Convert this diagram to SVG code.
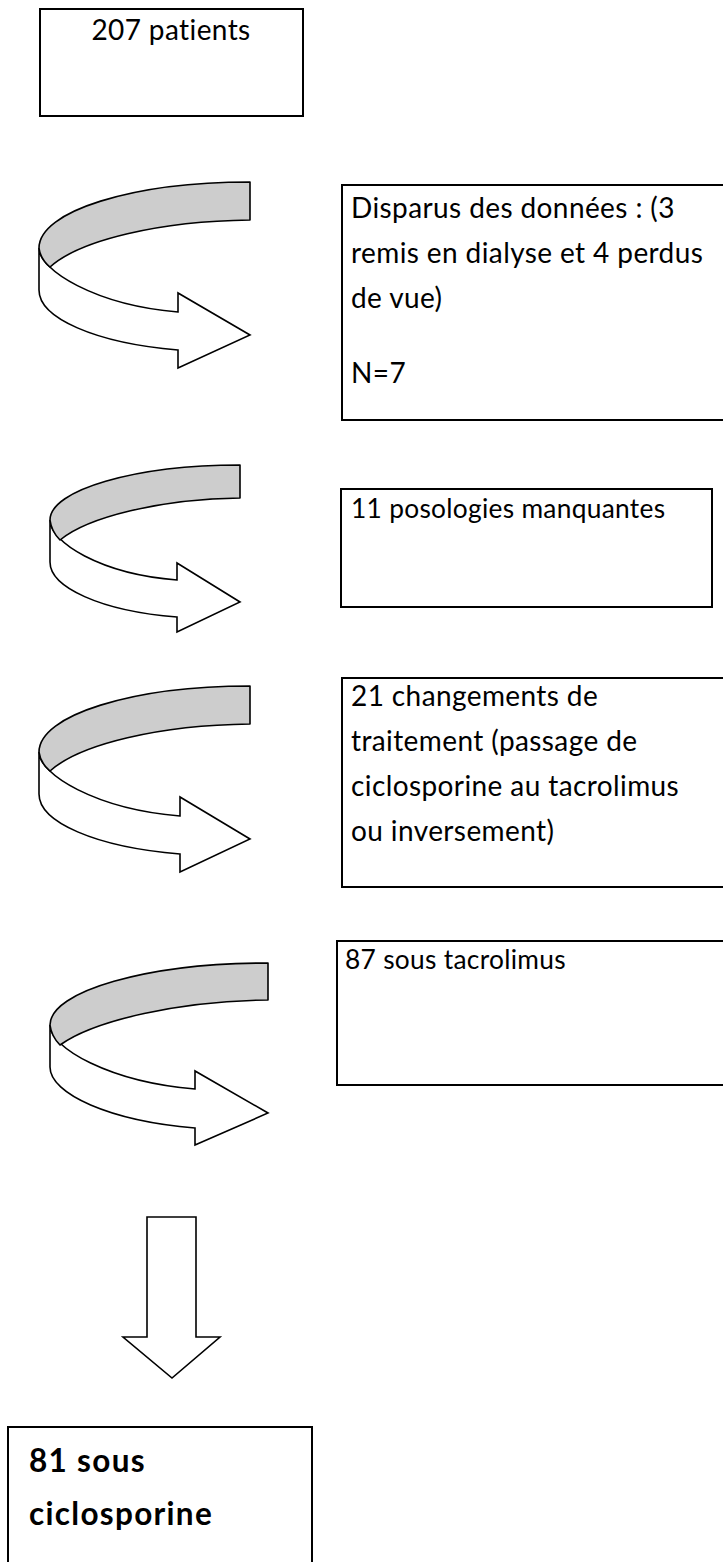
<svg xmlns="http://www.w3.org/2000/svg" width="723" height="1562" viewBox="0 0 723 1562">
<style>
.box{fill:#fff;stroke:#000;stroke-width:2}
.band{fill:#cdcdcd;stroke:#000;stroke-width:1.6;stroke-linejoin:round}
.body{fill:#fff;stroke:#000;stroke-width:1.6;stroke-linejoin:miter}
.t{font-family:Lato,"Liberation Sans",sans-serif;font-size:28px;letter-spacing:0.4px;font-variant-ligatures:none;fill:#000}
.s{font-family:Lato,"Liberation Sans",sans-serif;font-size:26.3px;letter-spacing:0.3px;font-variant-ligatures:none;fill:#000}
.b{font-family:Lato,"Liberation Sans",sans-serif;font-size:31.5px;letter-spacing:1.3px;font-weight:bold;font-variant-ligatures:none;fill:#000}
</style>
<rect width="723" height="1562" fill="#fff"/>
<g id="connectors">
  <g id="arrow1">
    <path class="body" d="M39,248 L39,290 C39,318 95,343 178,350 L178,368 L250,335 L178,293 L178,312 C95,305 39,270 39,248 Z"/>
    <path class="band" d="M250,182 C133,182 39,211 39,248 C40,256 44,262 50,267 C80,240 160,221 250,220 Z"/>
  </g>
  <g id="arrow2">
    <path class="body" d="M50,520 L50,562 C50,587 100,611 177,617 L177,632 L240,602 L177,563 L177,580 C100,574 50,542 50,520 Z"/>
    <path class="band" d="M240,465 C135,465 50,490 50,520 C51,528 55,535 60,540 C88,517 160,499 240,498 Z"/>
  </g>
  <g id="arrow3">
    <path class="body" d="M39,752 L39,794 C39,822 95,847 180,854 L180,872 L250,839 L180,797 L180,816 C95,809 39,774 39,752 Z"/>
    <path class="band" d="M250,686 C133,686 39,715 39,752 C40,760 44,766 50,771 C80,744 160,725 250,724 Z"/>
  </g>
  <g id="arrow4">
    <path class="body" d="M50,1025 L50,1067 C50,1094 110,1121 195,1128 L195,1145 L268,1113 L195,1071 L195,1089 C110,1082 50,1048 50,1025 Z"/>
    <path class="band" d="M268,963 C148,963 50,991 50,1025 C51,1033 55,1040 60,1045 C95,1020 180,1001 268,1000 Z"/>
  </g>
  <g id="arrow5">
    <path class="body" d="M147,1217 L196,1217 L196,1337 L220,1337 L172,1378 L123,1337 L147,1337 Z"/>
  </g>
</g>
<g id="node1">
  <rect class="box" x="40" y="9" width="263" height="107"/>
  <text class="t" x="171" y="40" text-anchor="middle">207 patients</text>
</g>
<g id="node2">
  <rect class="box" x="342" y="185" width="400" height="235"/>
  <text class="t" x="351" y="218">Disparus des données : (3</text>
  <text class="t" x="351" y="263">remis en dialyse et 4 perdus</text>
  <text class="t" x="351" y="308">de vue)</text>
  <text class="t" x="351" y="383">N=7</text>
</g>
<g id="node3">
  <rect class="box" x="341" y="489" width="371" height="118"/>
  <text class="s" x="351" y="518">11 posologies manquantes</text>
</g>
<g id="node4">
  <rect class="box" x="342" y="678" width="400" height="209"/>
  <text class="t" x="351" y="706">21 changements de</text>
  <text class="t" x="351" y="751">traitement (passage de</text>
  <text class="t" x="351" y="796">ciclosporine au tacrolimus</text>
  <text class="t" x="351" y="841">ou inversement)</text>
</g>
<g id="node5">
  <rect class="box" x="337" y="941" width="400" height="144"/>
  <text class="s" x="345" y="969">87 sous tacrolimus</text>
</g>
<g id="node6">
  <rect class="box" x="8" y="1427" width="304" height="150"/>
  <text class="b" x="29" y="1472">81 sous</text>
  <text class="b" x="29" y="1525">ciclosporine</text>
</g>
</svg>
